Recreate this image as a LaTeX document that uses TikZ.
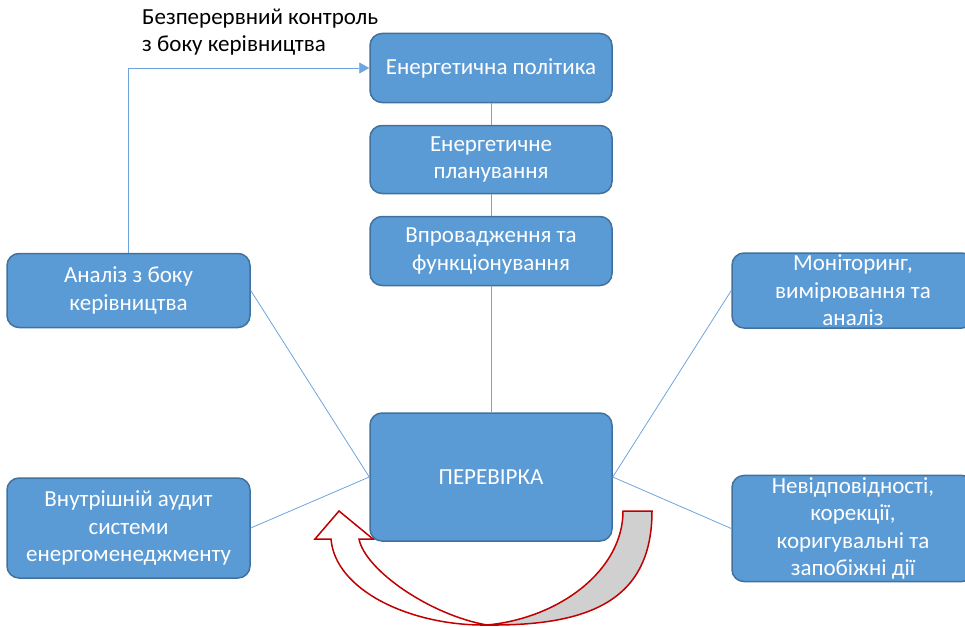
\documentclass[tikz,border=0pt]{standalone}
\usepackage{fontspec}
\setmainfont{Carlito}
\usetikzlibrary{arrows.meta}
\definecolor{boxfill}{RGB}{91,155,213}
\definecolor{boxline}{RGB}{65,113,156}
\definecolor{connc}{RGB}{110,165,220}
\definecolor{arrred}{RGB}{192,0,0}
\definecolor{arrgray}{RGB}{208,208,208}
\begin{document}
\begin{tikzpicture}[x=1pt,y=-1pt,
  box/.style={draw=boxline, line width=1.5pt, fill=boxfill, rounded corners=12pt,
    text=white, align=center, font=\fontsize{23}{27.5}\selectfont, inner sep=2pt,
    minimum width=242pt},
  connline/.style={draw=connc, line width=0.8pt},
  curvearr/.style={draw=arrred, line width=1.5pt, line join=miter}]
\useasboundingbox (0,0) rectangle (965,626);

\node[box, minimum height=69pt] (pol) at (491,68) {Енергетична політика};
\node[box, minimum height=68pt] (plan) at (491,159.5) {Енергетичне\\планування};
\node[box, minimum height=69pt] (impl) at (491,251) {Впровадження та\\функціонування};
\node[box, minimum height=128pt] (check) at (491,477) {ПЕРЕВІРКА};
\node[box, minimum height=74pt, minimum width=243pt] (anal) at (128.5,290.5) {Аналіз з боку\\керівництва};
\node[box, minimum height=100pt, minimum width=243pt] (audit) at (128.5,528) {Внутрішній аудит\\системи\\енергоменеджменту};
\node[box, minimum height=74pt] (mon) at (853,290.5) {Моніторинг,\\вимірювання та\\аналіз};
\node[box, minimum height=101pt] (nonc) at (853,528.5) {Невідповідності,\\корекції,\\коригувальні та\\запобіжні дії};

\node[anchor=west, align=left, font=\fontsize{23}{27}\selectfont, inner sep=0pt] (lbl) at (142,32)
  {Безперервний контроль\\з боку керівництва};

\draw[connline, -{Triangle[length=10pt,width=11pt]}] (anal.north) |- (pol.west);
\draw[connline] (pol.south) -- (plan.north);
\draw[connline] (plan.south) -- (impl.north);
\draw[connline] (impl.south) -- (check.north);
\draw[connline] (anal.east) -- (check.west);
\draw[connline] (audit.east) -- (check.west);
\draw[connline] (mon.west) -- (check.east);
\draw[connline] (nonc.west) -- (check.east);

% curved block arrow
\coordinate (gA) at (623,511);
\coordinate (gB) at (652,511);
\coordinate (bot) at (487,625);
\draw[curvearr, fill=arrgray] (gA) -- (gB)
  .. controls (652,600) and (590,626) .. (bot)
  .. controls (560,618) and (623,570) .. (gA) -- cycle;
\coordinate (wO) at (331,539);
\coordinate (wI) at (359,539);
\draw[curvearr, fill=white] (bot)
  .. controls (410,626) and (335,590) .. (wO)
  -- (315,539) -- (339,511) -- (373,539) -- (wI)
  .. controls (365,570) and (430,615) .. (bot) -- cycle;
\end{tikzpicture}
\end{document}
